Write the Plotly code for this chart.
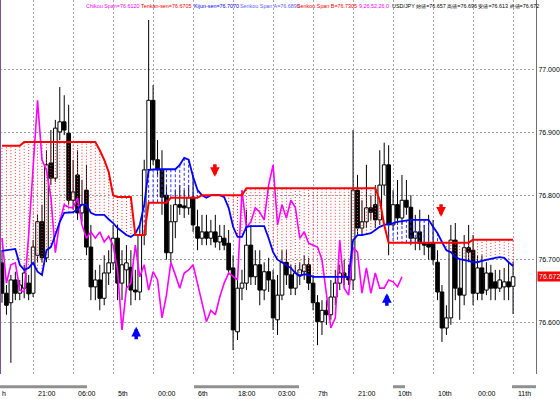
import plotly.graph_objects as go

# ---------------- data (hourly USD/JPY candles, index 0..115) ----------------
OPEN = [76.694, 76.646, 76.631, 76.667, 76.646, 76.654, 76.662, 76.646, 76.706, 76.759,
        76.702, 76.852, 76.828, 76.901, 76.917, 76.899, 76.793, 76.833, 76.773, 76.809,
        76.719, 76.656, 76.667, 76.638, 76.678, 76.694, 76.733, 76.662, 76.683, 76.687,
        76.651, 76.648, 76.738, 76.841, 76.951, 76.857, 76.841, 76.801, 76.710, 76.759,
        76.786, 76.784, 76.781, 76.798, 76.751, 76.733, 76.743, 76.733, 76.743, 76.727,
        76.733, 76.725, 76.686, 76.585, 76.654, 76.662, 76.722, 76.672, 76.691, 76.651,
        76.680, 76.667, 76.604, 76.643, 76.695, 76.675, 76.654, 76.675, 76.680, 76.691,
        76.662, 76.631, 76.601, 76.619, 76.612, 76.640, 76.662, 76.678, 76.672, 76.667,
        76.809, 76.749, 76.759, 76.781, 76.786, 76.762, 76.817, 76.849, 76.754, 76.786,
        76.765, 76.793, 76.782, 76.733, 76.743, 76.725, 76.724, 76.725, 76.695, 76.648,
        76.591, 76.607, 76.730, 76.654, 76.643, 76.718, 76.714, 76.646, 76.686, 76.651,
        76.678, 76.664, 76.654, 76.656, 76.664, 76.657]
HIGH = [76.714, 76.659, 76.675, 76.680, 76.667, 76.691, 76.675, 76.730, 76.770, 76.786,
        76.872, 76.904, 76.920, 76.972, 76.959, 76.944, 76.857, 76.872, 76.825, 76.849,
        76.754, 76.683, 76.691, 76.706, 76.714, 76.754, 76.754, 76.714, 76.722, 76.714,
        76.683, 76.754, 76.857, 77.078, 76.975, 76.888, 76.872, 76.817, 76.786, 76.809,
        76.817, 76.809, 76.817, 76.833, 76.778, 76.770, 76.770, 76.762, 76.770, 76.754,
        76.754, 76.746, 76.706, 76.667, 76.683, 76.778, 76.754, 76.714, 76.714, 76.695,
        76.702, 76.683, 76.675, 76.714, 76.714, 76.691, 76.691, 76.695, 76.706, 76.702,
        76.675, 76.643, 76.635, 76.635, 76.667, 76.683, 76.691, 76.699, 76.691, 76.904,
        76.833, 76.793, 76.849, 76.801, 76.817, 76.872, 76.884, 76.880, 76.809, 76.825,
        76.833, 76.825, 76.801, 76.770, 76.778, 76.754, 76.770, 76.762, 76.714, 76.659,
        76.627, 76.754, 76.757, 76.699, 76.738, 76.754, 76.738, 76.706, 76.706, 76.695,
        76.691, 76.683, 76.683, 76.686, 76.695, 76.696]
LOW = [76.631, 76.612, 76.536, 76.635, 76.635, 76.638, 76.635, 76.640, 76.695, 76.695,
       76.695, 76.817, 76.822, 76.888, 76.896, 76.786, 76.778, 76.762, 76.759, 76.706,
       76.635, 76.635, 76.619, 76.627, 76.659, 76.683, 76.635, 76.635, 76.651, 76.627,
       76.635, 76.635, 76.722, 76.833, 76.849, 76.833, 76.770, 76.699, 76.695, 76.733,
       76.770, 76.765, 76.770, 76.743, 76.714, 76.722, 76.722, 76.722, 76.718, 76.714,
       76.714, 76.675, 76.556, 76.572, 76.635, 76.651, 76.659, 76.659, 76.627, 76.635,
       76.648, 76.588, 76.580, 76.635, 76.659, 76.643, 76.643, 76.659, 76.667, 76.651,
       76.619, 76.564, 76.580, 76.596, 76.604, 76.627, 76.651, 76.659, 76.659, 76.651,
       76.738, 76.738, 76.749, 76.762, 76.749, 76.754, 76.801, 76.706, 76.746, 76.754,
       76.754, 76.770, 76.722, 76.714, 76.714, 76.706, 76.699, 76.691, 76.635, 76.569,
       76.580, 76.596, 76.635, 76.604, 76.627, 76.695, 76.627, 76.635, 76.635, 76.643,
       76.635, 76.635, 76.648, 76.635, 76.635, 76.613]
CLOSE = [76.646, 76.627, 76.667, 76.646, 76.659, 76.678, 76.645, 76.719, 76.759, 76.702,
         76.849, 76.828, 76.907, 76.917, 76.904, 76.793, 76.806, 76.773, 76.786, 76.719,
         76.656, 76.667, 76.638, 76.678, 76.694, 76.733, 76.662, 76.691, 76.694, 76.651,
         76.648, 76.738, 76.841, 76.951, 76.857, 76.841, 76.798, 76.710, 76.759, 76.786,
         76.782, 76.781, 76.797, 76.754, 76.733, 76.743, 76.733, 76.743, 76.727, 76.736,
         76.722, 76.683, 76.588, 76.654, 76.662, 76.722, 76.672, 76.691, 76.651, 76.680,
         76.667, 76.607, 76.643, 76.695, 76.675, 76.654, 76.678, 76.683, 76.691, 76.662,
         76.631, 76.601, 76.619, 76.612, 76.640, 76.662, 76.678, 76.672, 76.667, 76.809,
         76.749, 76.759, 76.781, 76.774, 76.762, 76.817, 76.849, 76.754, 76.786, 76.765,
         76.793, 76.782, 76.733, 76.743, 76.725, 76.722, 76.719, 76.699, 76.648, 76.591,
         76.607, 76.730, 76.654, 76.643, 76.718, 76.711, 76.646, 76.686, 76.646, 76.678,
         76.654, 76.654, 76.667, 76.664, 76.656, 76.672]
SENKOU_A = [76.713, 76.714, 76.714, 76.716, 76.691, 76.683, 76.686, 76.694, 76.680, 76.675,
            76.714, 76.719, 76.738, 76.759, 76.773, 76.774, 76.774, 76.779, 76.786, 76.786,
            76.773, 76.770, 76.770, 76.770, 76.763, 76.757, 76.749, 76.743, 76.738, 76.735,
            76.740, 76.754, 76.786, 76.841, 76.842, 76.842, 76.842, 76.842, 76.842, 76.842,
            76.849, 76.860, 76.857, 76.830, 76.809, 76.801, 76.797, 76.801, 76.801, 76.801,
            76.798, 76.781, 76.751, 76.735, 76.735, 76.751, 76.752, 76.752, 76.752, 76.752,
            76.733, 76.711, 76.699, 76.695, 76.691, 76.686, 76.678, 76.673, 76.676, 76.675,
            76.672, 76.672, 76.672, 76.672, 76.672, 76.672, 76.672, 76.672, 76.672, 76.730,
            76.738, 76.738, 76.740, 76.741, 76.746, 76.751, 76.754, 76.755, 76.757, 76.759,
            76.760, 76.762, 76.762, 76.762, 76.762, 76.762, 76.762, 76.751, 76.741, 76.727,
            76.714, 76.711, 76.703, 76.700, 76.699, 76.697, 76.695, 76.695, 76.697, 76.699,
            76.700, 76.702, 76.703, 76.702, 76.695, 76.689]
SENKOU_B = [76.879, 76.879, 76.879, 76.879, 76.879, 76.885, 76.885, 76.885, 76.885, 76.885,
            76.885, 76.885, 76.885, 76.885, 76.885, 76.885, 76.885, 76.885, 76.885, 76.885,
            76.885, 76.885, 76.872, 76.857, 76.838, 76.801, 76.798, 76.798, 76.798, 76.798,
            76.738, 76.738, 76.738, 76.789, 76.789, 76.789, 76.789, 76.789, 76.797, 76.797,
            76.797, 76.797, 76.797, 76.797, 76.797, 76.801, 76.801, 76.801, 76.801, 76.801,
            76.801, 76.801, 76.801, 76.801, 76.801, 76.812, 76.812, 76.812, 76.812, 76.812,
            76.812, 76.812, 76.812, 76.812, 76.812, 76.812, 76.812, 76.812, 76.812, 76.812,
            76.812, 76.812, 76.812, 76.812, 76.812, 76.812, 76.812, 76.812, 76.812, 76.812,
            76.812, 76.812, 76.812, 76.812, 76.812, 76.793, 76.754, 76.726, 76.726, 76.726,
            76.726, 76.726, 76.726, 76.726, 76.726, 76.726, 76.726, 76.726, 76.726, 76.726,
            76.726, 76.726, 76.726, 76.726, 76.726, 76.726, 76.7305, 76.7305, 76.7305, 76.7305,
            76.7305, 76.7305, 76.7305, 76.7305, 76.7305, 76.7305]
CHIKOU_SHIFT = 25

TICK_IDX = [7, 16, 25, 34, 43, 52, 61, 70, 79, 88, 97, 106, 115]
TICK_TEXT = ["21:00", "06:00", "5th", "00:00", "6th", "18:00", "03:00", "7th",
             "21:00", "10th", "10th", "00:00", "11th"]
Y_TICKS = [76.6, 76.7, 76.8, 76.9, 77.0]

SELL_X = [47.9, 98.8]
SELL_Y = [76.830, 76.767]
BUY_X = [30.2, 86.6]
BUY_Y = [76.593, 76.646]
LAST_PRICE = 76.672

HEADER_TEXT = ["Chikou Span=76.6120", "Tenkan-sen=76.6705", "Kijun-sen=76.7070",
               "Senkou Span A=76.6890", "Senkou Span B=76.7305", "9,26,52,26,0",
               "USD/JPY 始値=76.657 高値=76.696 安値=76.613 終値=76.672"]
HEADER_COLOR = ["#ff00ff", "#ff0000", "#0000ff", "#6060ff", "#ff0000", "#ff00ff", "#000000"]
HEADER_PX = [84, 139, 192, 238, 295, 357, 390]

# ---------------- figure ----------------
N = len(CLOSE)
idx = list(range(N))
fig = go.Figure()

# wicks (split around bodies)
wx, wy = [], []
for i in idx:
    top = max(OPEN[i], CLOSE[i]); bot = min(OPEN[i], CLOSE[i])
    wx += [i, i, None, i, i, None]
    wy += [HIGH[i], top, None, bot, LOW[i], None]
fig.add_trace(go.Scatter(x=wx, y=wy, mode="lines", line=dict(color="#000000", width=1),
                         hoverinfo="skip", showlegend=False))

# bodies
fig.add_trace(go.Bar(
    x=idx, base=[min(o, c) for o, c in zip(OPEN, CLOSE)],
    y=[abs(c - o) for o, c in zip(OPEN, CLOSE)], width=0.82,
    marker=dict(color=["#ffffff" if c >= o else "#000000" for o, c in zip(OPEN, CLOSE)],
                line=dict(color="#000000", width=1)),
    showlegend=False, hoverinfo="skip"))

# cloud hatch
rx, ry, bx, by = [], [], [], []
for i, (a, b) in enumerate(zip(SENKOU_A, SENKOU_B)):
    if b >= a:
        rx += [i, i, None]; ry += [a, b, None]
    else:
        bx += [i, i, None]; by += [a, b, None]
fig.add_trace(go.Scatter(x=rx, y=ry, mode="lines",
                         line=dict(color="#ff3030", width=1, dash="1px,2px"),
                         hoverinfo="skip", showlegend=False))
fig.add_trace(go.Scatter(x=bx, y=by, mode="lines",
                         line=dict(color="#3030ff", width=1, dash="3px,2px"),
                         hoverinfo="skip", showlegend=False))

# chikou
fig.add_trace(go.Scatter(x=[i - CHIKOU_SHIFT for i in idx[CHIKOU_SHIFT:]],
                         y=CLOSE[CHIKOU_SHIFT:], mode="lines",
                         line=dict(color="#ff00ff", width=1.6), showlegend=False))
# spans
fig.add_trace(go.Scatter(x=idx, y=SENKOU_A, mode="lines",
                         line=dict(color="#0000ff", width=1.8), showlegend=False))
fig.add_trace(go.Scatter(x=idx, y=SENKOU_B, mode="lines",
                         line=dict(color="#ff0000", width=2), showlegend=False))

ann = []
# arrows
for x, y in zip(SELL_X, SELL_Y):
    ann.append(dict(x=x, y=y, xref="x", yref="y", ax=0, ay=-14, showarrow=True,
                    arrowhead=2, arrowsize=0.55, arrowwidth=3.5, arrowcolor="#ff0000", text=""))
for x, y in zip(BUY_X, BUY_Y):
    ann.append(dict(x=x, y=y, xref="x", yref="y", ax=0, ay=14, showarrow=True,
                    arrowhead=2, arrowsize=0.55, arrowwidth=3.5, arrowcolor="#0000ff", text=""))

# x labels
ann.append(dict(x=0, y=-0.051, xref="paper", yref="paper", text="h", showarrow=False,
                xanchor="left", yanchor="middle", font=dict(size=7, color="#000000")))
for t, s in zip(TICK_IDX, TICK_TEXT):
    ann.append(dict(x=t, y=-0.051, xref="x", yref="paper", text=s, showarrow=False,
                    xanchor="left", yanchor="middle", xshift=3,
                    font=dict(size=7, color="#000000")))

# header (pieces placed at their own offsets)
for t, c, px in zip(HEADER_TEXT, HEADER_COLOR, HEADER_PX):
    ann.append(dict(x=px / 536, y=1 - 6 / 374, xref="paper", yref="paper", text=t,
                    showarrow=False, xanchor="left", yanchor="middle",
                    font=dict(size=5.4, color=c, family="Arial")))

# last price tag
ann.append(dict(x=1, y=LAST_PRICE, xref="paper", yref="y", text="76.672", showarrow=False,
                xanchor="left", yanchor="middle", xshift=1, bgcolor="#ff0000",
                font=dict(size=7, color="#b0ffff"), borderpad=1))

shapes = [
    dict(type="line", xref="paper", yref="paper", x0=0, x1=0, y0=0, y1=1,
         line=dict(color="#8050a0", width=2)),
]
for a, b in [(0, 87), (194, 299), (393, 405), (512, 536)]:
    shapes.append(dict(type="line", xref="paper", yref="paper", x0=a / 536, x1=b / 536,
                       y0=-0.034, y1=-0.034, line=dict(color="#909090", width=3)))

fig.update_layout(
    width=560, height=399, margin=dict(l=0, r=24, t=0, b=25),
    paper_bgcolor="#ffffff", plot_bgcolor="#ffffff", showlegend=False,
    bargap=0, annotations=ann, shapes=shapes,
    font=dict(family="Arial", size=7, color="#000000"),
)
fig.update_xaxes(range=[-0.45, 120.16], showticklabels=False, ticks="",
                 tickvals=TICK_IDX, showgrid=True, gridcolor="#b0a0c0", griddash="2px,2px",
                 gridwidth=1, zeroline=False, showline=False)
fig.update_yaxes(range=[76.5183, 77.1096], side="right", tickvals=Y_TICKS,
                 ticktext=["%.3f" % v for v in Y_TICKS], showgrid=True,
                 gridcolor="#a0a0a0", griddash="2px,2px", zeroline=False,
                 showline=True, linecolor="#707070", linewidth=1, ticks="",
                 tickfont=dict(size=7, color="#000000"))

fig.write_html("out.html", config={"displayModeBar": False, "staticPlot": True},
               post_script="document.body.style.margin='0';document.body.style.overflow='hidden';")
